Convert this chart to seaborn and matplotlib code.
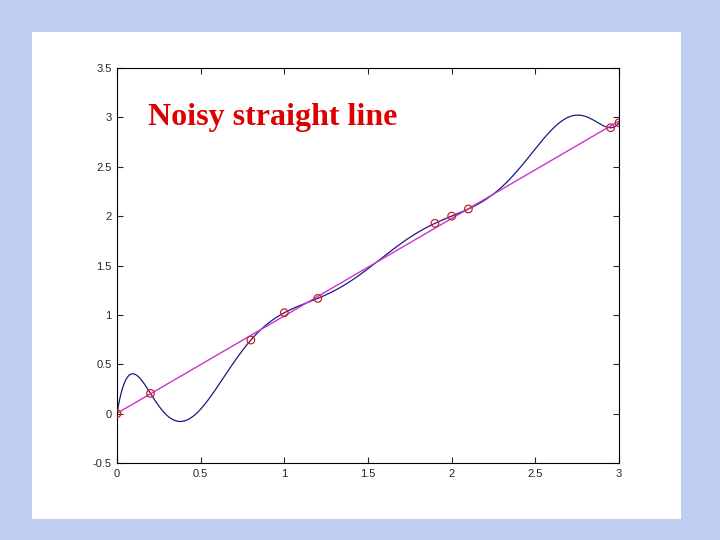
import numpy as np
import pandas as pd
import seaborn as sns
import matplotlib.pyplot as plt
from matplotlib.patches import Rectangle

# data points
x_pts = [0.0, 0.2, 0.8, 1.0, 1.2, 1.9, 2.0, 2.1, 2.95, 3.0]
y_pts = [0.0, 0.205, 0.745, 1.022, 1.167, 1.927, 2.0, 2.072, 2.895, 2.946]

x_ticks = [0, 0.5, 1, 1.5, 2, 2.5, 3]
y_ticks = [-0.5, 0, 0.5, 1, 1.5, 2, 2.5, 3, 3.5]
tick_labels_x = ['0', '0.5', '1', '1.5', '2', '2.5', '3']
tick_labels_y = ['-0.5', '0', '0.5', '1', '1.5', '2', '2.5', '3', '3.5']
title = 'Noisy straight line'

sns.set_style('ticks')
plt.rcParams['font.family'] = ['Liberation Sans', 'DejaVu Sans']

# interpolating polynomial (degree 9) and straight-line fit through the points
coef_interp = np.polyfit(x_pts, y_pts, len(x_pts) - 1)
coef_line = np.polyfit(x_pts, y_pts, 1)
xx = np.linspace(0, 3, 400)
df_curve = pd.DataFrame({'x': xx, 'y': np.polyval(coef_interp, xx)})
df_line = pd.DataFrame({'x': [0, 3], 'y': np.polyval(coef_line, [0, 3])})
df_pts = pd.DataFrame({'x': x_pts, 'y': y_pts})

fig = plt.figure(figsize=(7.2, 5.4), dpi=100)
fig.patch.set_facecolor('#bfcff3')
fig.patches.append(Rectangle((32 / 720, 21 / 540), 649 / 720, 487 / 540,
                             transform=fig.transFigure, facecolor='white',
                             edgecolor='none', zorder=-1))

ax = fig.add_axes([117 / 720, 77 / 540, 502 / 720, 395 / 540])
ax.set_zorder(2)
ax.set_facecolor('white')

sns.lineplot(data=df_curve, x='x', y='y', ax=ax, color='#1a1a80', linewidth=0.9, sort=False)
sns.lineplot(data=df_line, x='x', y='y', ax=ax, color='#cc33cc', linewidth=1.0)
sns.scatterplot(data=df_pts, x='x', y='y', ax=ax, marker='o', s=30,
                facecolors='none', edgecolor='#cc2222', linewidth=0.9, zorder=5)

ax.set_xlim(0, 3)
ax.set_ylim(-0.5, 3.5)
ax.set_xticks(x_ticks)
ax.set_xticklabels(tick_labels_x)
ax.set_yticks(y_ticks)
ax.set_yticklabels(tick_labels_y)
ax.set_xlabel('')
ax.set_ylabel('')
ax.tick_params(direction='in', length=4, width=0.8, labelsize=8,
               top=True, right=True, pad=4)
for sp in ax.spines.values():
    sp.set_visible(True)
    sp.set_linewidth(0.8)
    sp.set_color('black')

ax.text(0.062, 0.874, title, transform=ax.transAxes, fontsize=23,
        fontweight='bold', color='#dd0000', family=['Liberation Serif'],
        va='center', ha='left')

fig.savefig('out.png', dpi=100)
